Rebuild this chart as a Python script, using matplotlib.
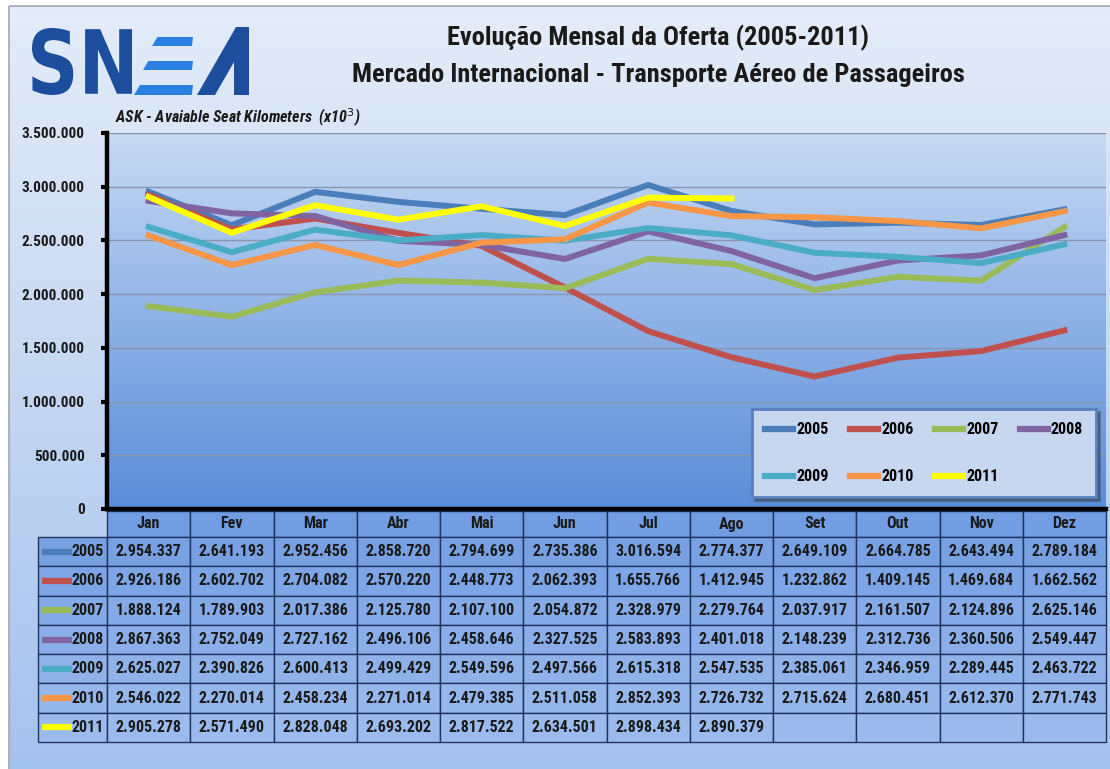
import numpy as np
import matplotlib
matplotlib.use("Agg")
import matplotlib.pyplot as plt
from matplotlib import font_manager
from matplotlib.colors import LinearSegmentedColormap
from matplotlib.patches import Rectangle, Polygon, PathPatch
from matplotlib.textpath import TextPath
from matplotlib.font_manager import FontProperties
from matplotlib.transforms import Affine2D

# ---------------------------------------------------------------- data
months = ["Jan", "Fev", "Mar", "Abr", "Mai", "Jun", "Jul", "Ago", "Set", "Out", "Nov", "Dez"]
years = ["2005", "2006", "2007", "2008", "2009", "2010", "2011"]

ask_2005 = [2954337, 2641193, 2952456, 2858720, 2794699, 2735386, 3016594, 2774377, 2649109, 2664785, 2643494, 2789184]
ask_2006 = [2926186, 2602702, 2704082, 2570220, 2448773, 2062393, 1655766, 1412945, 1232862, 1409145, 1469684, 1662562]
ask_2007 = [1888124, 1789903, 2017386, 2125780, 2107100, 2054872, 2328979, 2279764, 2037917, 2161507, 2124896, 2625146]
ask_2008 = [2867363, 2752049, 2727162, 2496106, 2458646, 2327525, 2583893, 2401018, 2148239, 2312736, 2360506, 2549447]
ask_2009 = [2625027, 2390826, 2600413, 2499429, 2549596, 2497566, 2615318, 2547535, 2385061, 2346959, 2289445, 2463722]
ask_2010 = [2546022, 2270014, 2458234, 2271014, 2479385, 2511058, 2852393, 2726732, 2715624, 2680451, 2612370, 2771743]
ask_2011 = [2905278, 2571490, 2828048, 2693202, 2817522, 2634501, 2898434, 2890379]

series = [ask_2005, ask_2006, ask_2007, ask_2008, ask_2009, ask_2010, ask_2011]
colors = ["#4a7ebb", "#c0504d", "#9bbb59", "#8064a2", "#4bacc6", "#f79646", "#ffff00"]

title1 = "Evolução Mensal da Oferta (2005-2011)"
title2 = "Mercado Internacional - Transporte Aéreo de Passageiros"
subtitle = "ASK - Avaiable Seat Kilometers  (x10$^3$)"

# ---------------------------------------------------------------- fonts
names = {f.name for f in font_manager.fontManager.ttflist}
FONT = "DejaVu Sans"
for cand in ["Liberation Sans Narrow", "Roboto Condensed", "Open Sans Condensed", "Noto Sans"]:
    if cand in names:
        FONT = cand
        break
plt.rcParams["font.family"] = [FONT, "DejaVu Sans"]


def fmt(v):
    return f"{v:,}".replace(",", ".")


W, H = 1110, 769
fig = plt.figure(figsize=(W / 100, H / 100), dpi=100)
fig.patch.set_facecolor("white")

# background axes in pixel coordinates
bg = fig.add_axes([0, 0, 1, 1], zorder=0)
bg.set_xlim(0, W)
bg.set_ylim(H, 0)
bg.axis("off")

frame_cmap = LinearSegmentedColormap.from_list("frame", ["#e4ecf8", "#c5d7f2", "#a4c2ef"])
bg.imshow(np.linspace(0, 1, 256).reshape(-1, 1), cmap=frame_cmap, aspect="auto",
          extent=[9, W + 5, H + 5, 6], zorder=0)
bg.add_patch(Rectangle((9, 6), W, H, fill=False, edgecolor="#a0a8b4", lw=1.2, zorder=1))

# logo
prop = FontProperties(family="DejaVu Sans", weight="bold")
tp = TextPath((0, 0), "SN", size=1, prop=prop)
ext = tp.get_extents()
tr = Affine2D().translate(-ext.x0, -ext.y0).scale(100 / ext.width, -67 / ext.height).translate(32, 95)
bg.add_patch(PathPatch(tp.transformed(tr), facecolor="#1c4e9d", edgecolor="none", zorder=2))
for (xl, xr, yt, yb) in [(152, 193, 37, 46), (143, 193, 61, 70), (134, 193, 85, 95)]:
    sl = (yb - yt) * 0.6
    bg.add_patch(Polygon([(xl + sl, yt), (xr, yt), (xr - sl * 0.2, yb), (xl, yb)],
                         closed=True, facecolor="#2a80e2", edgecolor="none", zorder=2))
bg.add_patch(Polygon([(197, 95), (236, 27), (249, 27), (249, 95), (234, 95), (234, 62), (215, 95)],
                     closed=True, facecolor="#1c4e9d", edgecolor="none", zorder=2))

bg.text(658, 38, title1, ha="center", va="center", fontsize=19, fontweight="bold", color="#1a1a1a", zorder=3)
bg.text(658, 75, title2, ha="center", va="center", fontsize=19, fontweight="bold", color="#1a1a1a", zorder=3)
bg.text(115, 118, subtitle, ha="left", va="center", fontsize=11.5, fontweight="bold",
        fontstyle="italic", color="#1a1a1a", zorder=3)

# ---------------------------------------------------------------- chart
left, right, top, bottom = 107, 1106, 133, 509
ax = fig.add_axes([left / W, 1 - bottom / H, (right - left) / W, (bottom - top) / H], zorder=2)
ax.set_facecolor("none")
x = np.arange(len(months))
ax.set_xlim(-0.5, len(months) - 0.5)
ax.set_ylim(0, 3500000)

plot_cmap = LinearSegmentedColormap.from_list("plot", ["#5a8dd8", "#8eb2e6", "#c8daf3"])
ax.imshow(np.linspace(0, 1, 256).reshape(-1, 1), cmap=plot_cmap, origin="lower", aspect="auto",
          extent=[-0.5, len(months) - 0.5, 0, 3500000], zorder=0)

yt = np.arange(0, 3500001, 500000)
ax.set_yticks(yt)
ax.set_yticklabels([fmt(v) for v in yt], fontsize=11, fontweight="bold", color="#1a1a1a")
ax.set_xticks([])
for v in yt[1:]:
    ax.axhline(v, color="#8796ad", lw=1, zorder=1)

handles = []
for name, vals, c in zip(years, series, colors):
    h, = ax.plot(x[:len(vals)], vals, color=c, lw=4.3, solid_joinstyle="miter", label=name, zorder=3)
    handles.append(h)

for s in ["top", "right"]:
    ax.spines[s].set_visible(False)
for s in ["left", "bottom"]:
    ax.spines[s].set_linewidth(3.2)
    ax.spines[s].set_color("black")
ax.tick_params(axis="y", length=4, width=3, direction="out", pad=12)

# legend filled row by row (matplotlib fills by column)
order = [0, 4, 1, 5, 2, 6, 3]
leg = ax.legend([handles[k] for k in order], [years[k] for k in order],
                loc="lower left", bbox_to_anchor=(0.646, 0.032, 0.344, 0.239), mode="expand",
                borderaxespad=0, ncol=4, prop={"weight": "bold", "size": 11.5},
                handlelength=1.75, handletextpad=0.2, labelspacing=2.0, borderpad=0.8,
                frameon=True, fancybox=False, shadow=True)
leg.get_frame().set_facecolor("#c7d7f0")
leg.get_frame().set_edgecolor("#5a7fbc")
leg.get_frame().set_linewidth(2)
for line in leg.get_lines():
    line.set_linewidth(4.5)

# ---------------------------------------------------------------- table
col_w = (right - left) / len(months)
head_top, head_bot = 511, 537
row_h = (742 - head_bot) / len(years)
lab_left = 38
edge = "#1f3560"

for j, m in enumerate(months):
    x0 = left + j * col_w
    bg.add_patch(Rectangle((x0, head_top), col_w, head_bot - head_top, facecolor="#729de2",
                           edgecolor=edge, lw=1, zorder=2))
    bg.text(x0 + col_w / 2, (head_top + head_bot) / 2, m, ha="center", va="center",
            fontsize=11.5, fontweight="bold", color="#1a1a1a", zorder=3)

row_cmap = LinearSegmentedColormap.from_list("rows", ["#78a1e3", "#9bbbee"])
for i, (name, vals, c) in enumerate(zip(years, series, colors)):
    y0 = head_bot + i * row_h
    fc = row_cmap(i / (len(years) - 1))
    bg.add_patch(Rectangle((lab_left, y0), left - lab_left, row_h, facecolor=fc,
                           edgecolor=edge, lw=1, zorder=2))
    bg.plot([lab_left + 4, lab_left + 34], [y0 + row_h / 2] * 2, color=c, lw=4.5,
            solid_capstyle="butt", zorder=3)
    bg.text(left - 3, y0 + row_h / 2, name, ha="right", va="center", fontsize=11.5,
            fontweight="bold", color="#1a1a1a", zorder=3)
    for j in range(len(months)):
        x0 = left + j * col_w
        bg.add_patch(Rectangle((x0, y0), col_w, row_h, facecolor=fc, edgecolor=edge,
                               lw=1, zorder=2))
        if j < len(vals):
            bg.text(x0 + col_w / 2, y0 + row_h / 2, fmt(vals[j]), ha="center", va="center",
                    fontsize=11.5, fontweight="bold", color="#1a1a1a", zorder=3)

fig.savefig("out.png", dpi=100)
